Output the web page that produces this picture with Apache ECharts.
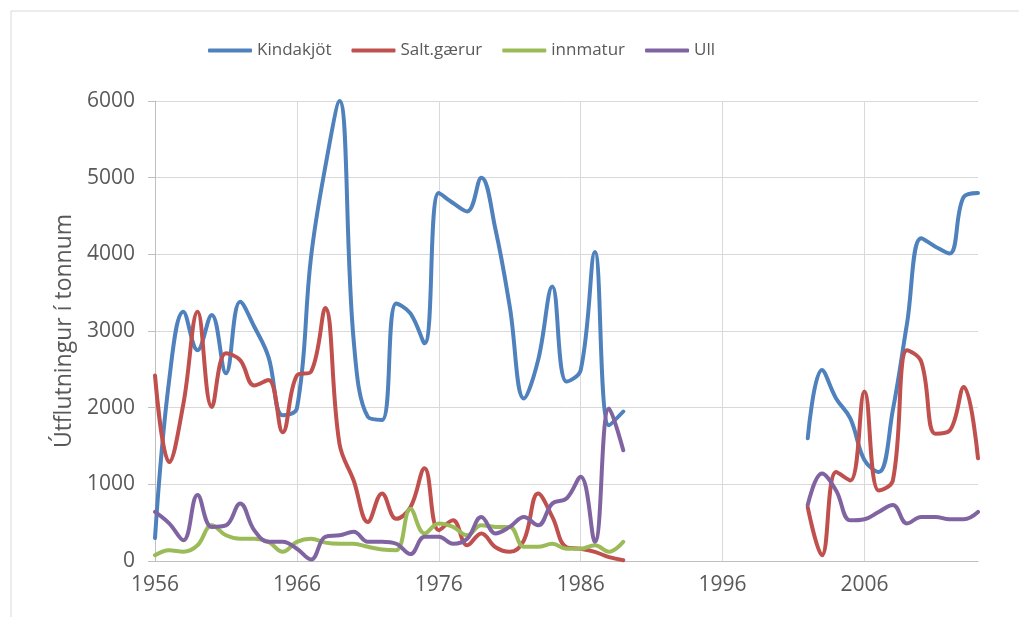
<!DOCTYPE html>
<html>
<head>
<meta charset="utf-8">
<script src="https://cdn.jsdelivr.net/npm/echarts@6/dist/echarts.min.js"></script>
<style>
  html, body { margin: 0; padding: 0; background: #fff; }
  #container { width: 1019px; height: 617px; }
</style>
</head>
<body>
<div id="container"></div>
<script>
var dom = document.getElementById("container");
var myChart = echarts.init(dom, null, {
    renderer: "canvas",
    useDirtyRect: false
});

// years with data (gap 1990-2001)
var years1 = [1956, 1957, 1958, 1959, 1960, 1961, 1962, 1963, 1964, 1965,
    1966, 1967, 1968, 1969, 1970, 1971, 1972, 1973, 1974, 1975,
    1976, 1977, 1978, 1979, 1980, 1981, 1982, 1983, 1984, 1985,
    1986, 1987, 1988, 1989];
var years2 = [2002, 2003, 2004, 2005, 2006, 2007, 2008, 2009, 2010, 2011, 2012, 2013, 2014];

var kindakjot1 = [300, 2360, 3250, 2750, 3210, 2450, 3380, 3055, 2660, 1900,
    1990, 3970, 5140, 6000, 2880, 1880, 1840, 3360, 3230, 2840,
    4800, 4670, 4560, 5000, 4320, 3320, 2120, 2620, 3580, 2340,
    2490, 4030, 1770, 1950];
var kindakjot2 = [1600, 2490, 2120, 1860, 1315, 1160, 1970, 3100, 4210, 4100, 4010, 4750, 4800];

var salt1 = [2420, 1290, 2050, 3250, 2010, 2710, 2620, 2290, 2360, 1680,
    2420, 2470, 3300, 1530, 1050, 510, 880, 550, 700, 1210,
    400, 530, 205, 360, 180, 120, 270, 880, 575, 180,
    160, 120, 50, 10];
var salt2 = [700, 75, 1160, 1050, 2210, 920, 1050, 2750, 2600, 1660, 1700, 2270, 1340];

var innmatur1 = [75, 140, 120, 205, 465, 335, 290, 290, 250, 120,
    250, 290, 240, 225, 225, 185, 150, 140, 680, 360,
    490, 445, 335, 465, 445, 445, 185, 185, 225, 160,
    160, 205, 120, 250];

var ull1 = [640, 490, 270, 860, 445, 465, 750, 400, 250, 250,
    160, 20, 315, 335, 380, 250, 250, 225, 90, 315,
    315, 225, 290, 575, 360, 445, 575, 465, 750, 815,
    1100, 250, 1990, 1445];
var ull2 = [730, 1140, 920, 530, 545, 640, 730, 490, 575, 575, 545, 545, 640];

var names = ["Kindakjöt", "Salt.gærur", "innmatur", "Ull"];
var colors = ["#4f81bd", "#c0504d", "#9bbb59", "#8064a2"];

function pairs(yrs, vals) {
    return yrs.map(function (y, i) { return [y, vals[i]]; });
}
function joined(a, b) {
    var out = pairs(years1, a);
    if (b) {
        out.push([1990, "-"]);
        out = out.concat(pairs(years2, b));
    }
    return out;
}

var seriesData = [
    joined(kindakjot1, kindakjot2),
    joined(salt1, salt2),
    joined(innmatur1, null),
    joined(ull1, ull2)
];

var font = "'Open Sans', 'Liberation Sans', sans-serif";
var textColor = "#595959";

var option = {
    animation: false,
    color: colors,
    graphic: [{
        type: "rect",
        shape: { x: 11, y: 11, width: 1030, height: 630 },
        style: { fill: "none", stroke: "#d9d9d9", lineWidth: 1 },
        silent: true
    }],
    grid: {
        left: 155,
        right: 41,
        top: 101,
        bottom: 56
    },
    legend: {
        left: 203,
        top: 37,
        icon: "roundRect",
        itemWidth: 44,
        itemHeight: 4,
        itemGap: 20,
        data: names,
        textStyle: {
            fontFamily: font,
            fontSize: 17,
            color: textColor
        }
    },
    xAxis: {
        type: "value",
        min: 1956,
        max: 2014,
        interval: 10,
        axisLine: { show: true, lineStyle: { color: "#bfbfbf", width: 1 } },
        axisTick: { show: false },
        axisLabel: {
            showMaxLabel: false,
            margin: 14,
            fontFamily: font,
            fontSize: 21,
            color: textColor,
            formatter: function (v) { return String(v); }
        },
        splitLine: {
            show: true,
            showMaxLine: false,
            lineStyle: { color: "#d9d9d9", width: 1 }
        }
    },
    yAxis: {
        type: "value",
        min: 0,
        max: 6000,
        interval: 1000,
        name: "Útflutningur í tonnum",
        nameLocation: "middle",
        nameGap: 78,
        nameTextStyle: {
            fontFamily: font,
            fontSize: 23,
            color: textColor
        },
        axisLine: { show: true, lineStyle: { color: "#bfbfbf", width: 1 } },
        axisTick: { show: true, length: 7, lineStyle: { color: "#bfbfbf" } },
        axisLabel: {
            margin: 20,
            fontFamily: font,
            fontSize: 21,
            color: textColor,
            formatter: function (v) { return String(v); }
        },
        splitLine: {
            show: true,
            lineStyle: { color: "#d9d9d9", width: 1 }
        }
    },
    series: names.map(function (n, i) {
        return {
            name: n,
            type: "line",
            smooth: 0.4,
            symbol: "none",
            connectNulls: false,
            lineStyle: { width: 4, color: colors[i], cap: "round", join: "round" },
            itemStyle: { color: colors[i] },
            data: seriesData[i]
        };
    })
};

if (option && typeof option === "object") {
    myChart.setOption(option);
}

window.addEventListener("resize", myChart.resize);
</script>
</body>
</html>
